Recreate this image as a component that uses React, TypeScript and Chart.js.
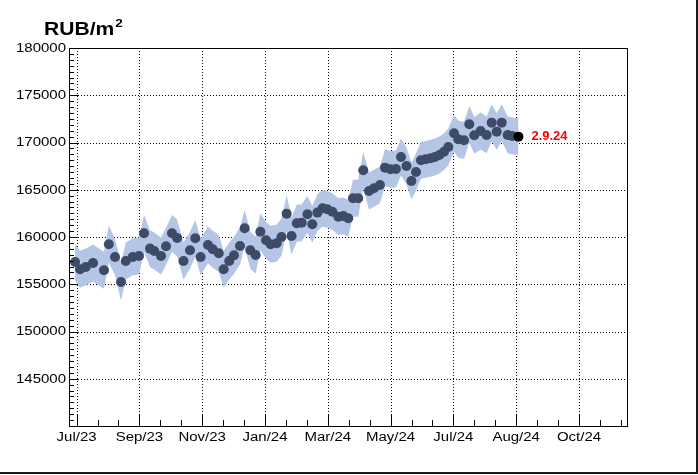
import { useEffect, useRef } from 'react';
import { Chart, registerables } from 'chart.js';

Chart.register(...registerables);

// ---- data (day offsets counted from the "Jul/23" axis tick) ----
const dayOffsets = [
  -1.5, 3.3, 8.9, 15.9, 26.5, 31.2, 37.2, 43.0, 47.6, 54.3, 60.4, 65.3, 71.1, 75.2, 81.7, 86.6,
  92.4, 97.3, 103.5, 109.8, 114.9, 120.1, 127.2, 131.8, 137.6, 142.4, 147.8, 152.4, 158.2, 162.7,
  168.2, 173.4, 177.9, 183.4, 187.9, 193.7, 198.4, 203.4, 208.1, 213.2, 217.9, 223.5, 228.2, 233.2,
  238.1, 242.7, 247.6, 253.4, 258.2, 263.0, 267.6, 272.7, 277.5, 283.1, 287.9, 293.7, 298.6, 303.9,
  309.2, 314.1, 319.4, 324.2, 328.6, 333.4, 338.0, 342.8, 347.0, 351.2, 355.7, 359.9, 365.4, 369.5,
  375.1, 380.2, 385.0, 391.2, 397.0, 401.9, 406.7, 411.6, 417.4, 421.8,
];
const prices = [
  157360, 156590, 156830, 157250, 156480, 159230, 157890, 155240, 157460, 157890, 157990, 160390,
  158770, 158520, 157990, 159020, 160390, 159900, 157460, 158600, 159870, 157890, 159160, 158700,
  158280, 156590, 157460, 158070, 159050, 160920, 158600, 158100, 160560, 159650, 159230, 159340,
  160000, 162470, 160110, 161450, 161510, 162400, 161340, 162580, 163040, 162930, 162680, 162150,
  162230, 161980, 164100, 164100, 167060, 164870, 165160, 165510, 167340, 167160, 167200, 168470,
  167510, 165930, 166880, 168120, 168220, 168330, 168470, 168680, 169030, 169530, 170980, 170340,
  170240, 171930, 170760, 171220, 170800, 172100, 171150, 172100, 170800, 170690,
];
const lastDay = 427.8;
const lastPrice = 170620;
const lastLabel = '2.9.24';
const bandHalfWidth = 1950;

const xTickDays = [0, 60.8, 121.6, 182.4, 243.2, 304, 364.8, 425.6, 486.4];
const xTickLabels = ['Jul/23', 'Sep/23', 'Nov/23', 'Jan/24', 'Mar/24', 'May/24', 'Jul/24', 'Aug/24', 'Oct/24'];
const yTickValues = [145000, 150000, 155000, 160000, 165000, 170000, 175000, 180000];
const yTickLabels = ['145000', '150000', '155000', '160000', '165000', '170000', '175000', '180000'];
const titleMain = 'RUB/m';
const titleSup = '2';

const X_MIN = -7.36;
const X_MAX = 532.9;
const Y_MIN = 140000;
const Y_MAX = 180000;
const X_MINOR = 60.8 / 3;
const Y_MINOR = 625;

const FONT = '"Liberation Sans", Arial, Helvetica, sans-serif';
const SX = 1.2;

function stretchedText(ctx: CanvasRenderingContext2D, text: string, x: number, y: number, align: CanvasTextAlign, sx = SX) {
  ctx.save();
  ctx.translate(x, y);
  ctx.scale(sx, 1);
  ctx.textAlign = align;
  ctx.fillText(text, 0, 0);
  ctx.restore();
}

const rootPlugin = {
  id: 'rootStyle',
  beforeDatasetsDraw(chart: any) {
    const { ctx, chartArea, scales } = chart;
    const { left, right, top, bottom } = chartArea;
    const x = scales.x;
    const y = scales.y;
    ctx.save();
    ctx.strokeStyle = '#000';
    ctx.lineWidth = 1;
    ctx.setLineDash([1, 2]);
    xTickDays.forEach((d) => {
      const px = Math.round(x.getPixelForValue(d)) + 0.5;
      if (px <= left + 1 || px >= right - 1) return;
      ctx.beginPath();
      ctx.moveTo(px, top);
      ctx.lineTo(px, bottom);
      ctx.stroke();
    });
    yTickValues.forEach((v) => {
      const py = Math.round(y.getPixelForValue(v)) + 0.5;
      if (py <= top + 1 || py >= bottom - 1) return;
      ctx.beginPath();
      ctx.moveTo(left, py);
      ctx.lineTo(right, py);
      ctx.stroke();
    });
    ctx.restore();
  },
  afterDraw(chart: any) {
    const { ctx, chartArea, scales } = chart;
    const { left, right, top, bottom } = chartArea;
    const x = scales.x;
    const y = scales.y;
    ctx.save();
    ctx.setLineDash([]);
    // frame
    ctx.strokeStyle = '#000';
    ctx.lineWidth = 1;
    ctx.strokeRect(Math.round(left) + 0.5, Math.round(top) + 0.5, Math.round(right - left), Math.round(bottom - top));

    // y ticks
    ctx.beginPath();
    for (let v = Y_MIN; v <= Y_MAX; v += Y_MINOR) {
      const py = Math.round(y.getPixelForValue(v)) + 0.5;
      const major = (v - Y_MIN) % 5000 === 0;
      ctx.moveTo(left, py);
      ctx.lineTo(left + (major ? 9 : 5), py);
    }
    // x ticks
    const startK = Math.ceil(X_MIN / X_MINOR);
    for (let k = startK; k * X_MINOR <= X_MAX; k++) {
      const d = k * X_MINOR;
      const px = Math.round(x.getPixelForValue(d)) + 0.5;
      if (px <= left + 1) continue;
      const major = k % 3 === 0;
      ctx.moveTo(px, bottom);
      ctx.lineTo(px, bottom - (major ? 11 : 6));
    }
    ctx.stroke();

    // labels
    ctx.fillStyle = '#000';
    ctx.font = `12.5px ${FONT}`;
    ctx.textBaseline = 'middle';
    yTickValues.forEach((v, i) => {
      stretchedText(ctx, yTickLabels[i], 66, y.getPixelForValue(v) + 0.5, 'right');
    });
    xTickDays.forEach((d, i) => {
      stretchedText(ctx, xTickLabels[i], x.getPixelForValue(d), 437.5, 'center');
    });

    // title
    ctx.textBaseline = 'alphabetic';
    ctx.font = `bold 18px ${FONT}`;
    stretchedText(ctx, titleMain, 44, 35, 'left', 1.17);
    const w = ctx.measureText(titleMain).width * 1.17;
    ctx.font = `bold 11.5px ${FONT}`;
    stretchedText(ctx, titleSup, 44 + w + 1, 27, 'left', 1.17);

    // last point label
    ctx.fillStyle = '#ff0000';
    ctx.font = `bold 12px ${FONT}`;
    ctx.textBaseline = 'middle';
    stretchedText(ctx, lastLabel, x.getPixelForValue(lastDay) + 13, y.getPixelForValue(lastPrice) + 0.5, 'left', 1.08);

    // outer canvas border
    ctx.fillStyle = '#1a1a1a';
    ctx.fillRect(696, 0, 2, 474);
    ctx.fillRect(0, 472, 698, 2);
    ctx.restore();
  },
};

export default function App() {
  const ref = useRef<HTMLCanvasElement>(null);
  useEffect(() => {
    const allDays = [...dayOffsets, lastDay];
    const allPrices = [...prices, lastPrice];
    const pts = dayOffsets.map((d, i) => ({ x: d, y: prices[i] }));
    const upper = allDays.map((d, i) => ({ x: d, y: allPrices[i] + bandHalfWidth }));
    const lower = allDays.map((d, i) => ({ x: d, y: allPrices[i] - bandHalfWidth }));
    const chart = new Chart(ref.current!, {
      type: 'line',
      data: {
        datasets: [
          {
            data: [{ x: lastDay, y: lastPrice }],
            showLine: false,
            pointRadius: 5,
            pointBackgroundColor: '#000',
            pointBorderWidth: 0,
            pointBorderColor: 'rgba(0,0,0,0)',
          },
          {
            data: pts,
            showLine: false,
            pointRadius: 5,
            pointBackgroundColor: '#3d4a68',
            pointBorderWidth: 0,
            pointBorderColor: 'rgba(0,0,0,0)',
          },
          {
            data: upper,
            borderWidth: 0,
            borderColor: 'rgba(0,0,0,0)',
            backgroundColor: '#b5c5e6',
            pointRadius: 0,
            tension: 0,
            fill: '+1',
          },
          {
            data: lower,
            borderWidth: 0,
            borderColor: 'rgba(0,0,0,0)',
            pointRadius: 0,
            tension: 0,
            fill: false,
          },
        ],
      },
      options: {
        responsive: false,
        devicePixelRatio: 1,
        animation: false,
        layout: { padding: { left: 69, right: 71, top: 48, bottom: 49 } },
        plugins: { legend: { display: false }, tooltip: { enabled: false } },
        scales: {
          x: { type: 'linear', min: X_MIN, max: X_MAX, display: false },
          y: { type: 'linear', min: Y_MIN, max: Y_MAX, display: false },
        },
      },
      plugins: [rootPlugin],
    } as any);
    return () => chart.destroy();
  }, []);
  return (
    <div style={{ position: 'fixed', left: 0, top: 0, width: 698, height: 475, background: '#fff' }}>
      <canvas ref={ref} width={698} height={475} style={{ display: 'block', width: 698, height: 475 }} />
    </div>
  );
}
